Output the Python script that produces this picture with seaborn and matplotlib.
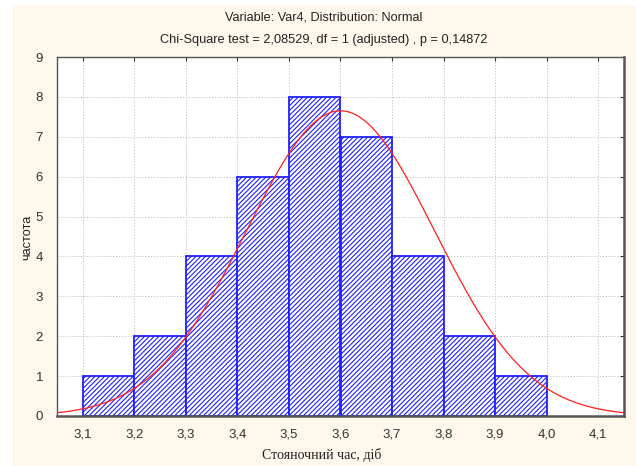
import numpy as np
import pandas as pd
import matplotlib
matplotlib.use("Agg")
import matplotlib.pyplot as plt
import seaborn as sns
from matplotlib.patches import Rectangle

# ---- data ----
bin_edges = [3.1, 3.2, 3.3, 3.4, 3.5, 3.6, 3.7, 3.8, 3.9, 4.0]
counts = [1, 2, 4, 6, 8, 7, 4, 2, 1]
fit_mean = 3.6
fit_sd = 0.1825
x_ticks = [3.1, 3.2, 3.3, 3.4, 3.5, 3.6, 3.7, 3.8, 3.9, 4.0, 4.1]
x_tick_labels = ["3,1", "3,2", "3,3", "3,4", "3,5", "3,6", "3,7", "3,8", "3,9", "4,0", "4,1"]
y_ticks = [0, 1, 2, 3, 4, 5, 6, 7, 8, 9]
title1 = "Variable: Var4, Distribution: Normal"
title2 = "Chi-Square test = 2,08529, df = 1 (adjusted) , p = 0,14872"
xlabel = "Стояночний час, діб"
ylabel = "частота"

sns.set_theme(style="white")
plt.rcParams['font.family'] = ['Liberation Sans', 'DejaVu Sans']
plt.rcParams['hatch.linewidth'] = 0.8

fig = plt.figure(figsize=(6.36, 4.66), dpi=100)
fig.patch.set_facecolor("white")
fig.patches.append(Rectangle((12/636, 0), 1 - 12/636, 1 - 5/466, transform=fig.transFigure,
                             facecolor="#FEF8EC", edgecolor="none", zorder=-10))

ax = fig.add_axes([57/636, 1 - 416/466, (624 - 57)/636, (416 - 57)/466])
ax.set_facecolor("white")

mids = [(bin_edges[i] + bin_edges[i + 1]) / 2 for i in range(len(counts))]
df = pd.DataFrame({"x": mids, "w": counts})
sns.histplot(data=df, x="x", weights="w", bins=bin_edges, ax=ax,
             color="white", edgecolor="#1414FF", linewidth=1.3, alpha=1, zorder=2)
for p in ax.patches:
    p.set_hatch("///////")
    p.set_facecolor("white")
    p.set_edgecolor("#2020FF")

# fitted normal curve (expected frequencies)
total = sum(counts)
bw = bin_edges[1] - bin_edges[0]
xs = np.linspace(3.05, 4.15, 300)
ys = total * bw / (fit_sd * np.sqrt(2 * np.pi)) * np.exp(-0.5 * ((xs - fit_mean) / fit_sd) ** 2)
sns.lineplot(x=xs, y=ys, ax=ax, color="#FF2020", linewidth=0.9, zorder=3)

ax.set_xlim(3.05, 4.15)
ax.set_ylim(0, 9)
ax.set_xticks(x_ticks)
ax.set_xticklabels(x_tick_labels)
ax.set_yticks(y_ticks)
ax.tick_params(axis="both", direction="in", length=3, width=0.8, colors="#333333",
               labelsize=9.5, top=True, right=True, labeltop=False, labelright=False)
ax.tick_params(axis="x", pad=9)
ax.tick_params(axis="y", pad=10)
ax.grid(True, color="#BBBBBB", linestyle=(0, (1.5, 2)), linewidth=0.6, zorder=0)
ax.set_axisbelow(True)
for s in ax.spines.values():
    s.set_color("#555555")
    s.set_linewidth(1.0)
ax.spines["right"].set_linewidth(1.8)
ax.spines["bottom"].set_linewidth(1.8)
ax.set_xlabel("")
ax.set_ylabel("")

fig.text(324/636, 1 - 18/466, title1, ha="center", va="center", fontsize=9.2, color="#222222")
fig.text(324/636, 1 - 40/466, title2, ha="center", va="center", fontsize=9.2, color="#222222")
fig.text(322/636, 1 - 455/466, xlabel, ha="center", va="center", fontsize=10,
         family=["Liberation Serif", "DejaVu Serif"], color="#222222")
fig.text(27/636, 1 - 237/466, ylabel, ha="center", va="center", rotation=90,
         fontsize=9.2, color="#222222")

fig.savefig("out.png", dpi=100, facecolor=fig.get_facecolor())
